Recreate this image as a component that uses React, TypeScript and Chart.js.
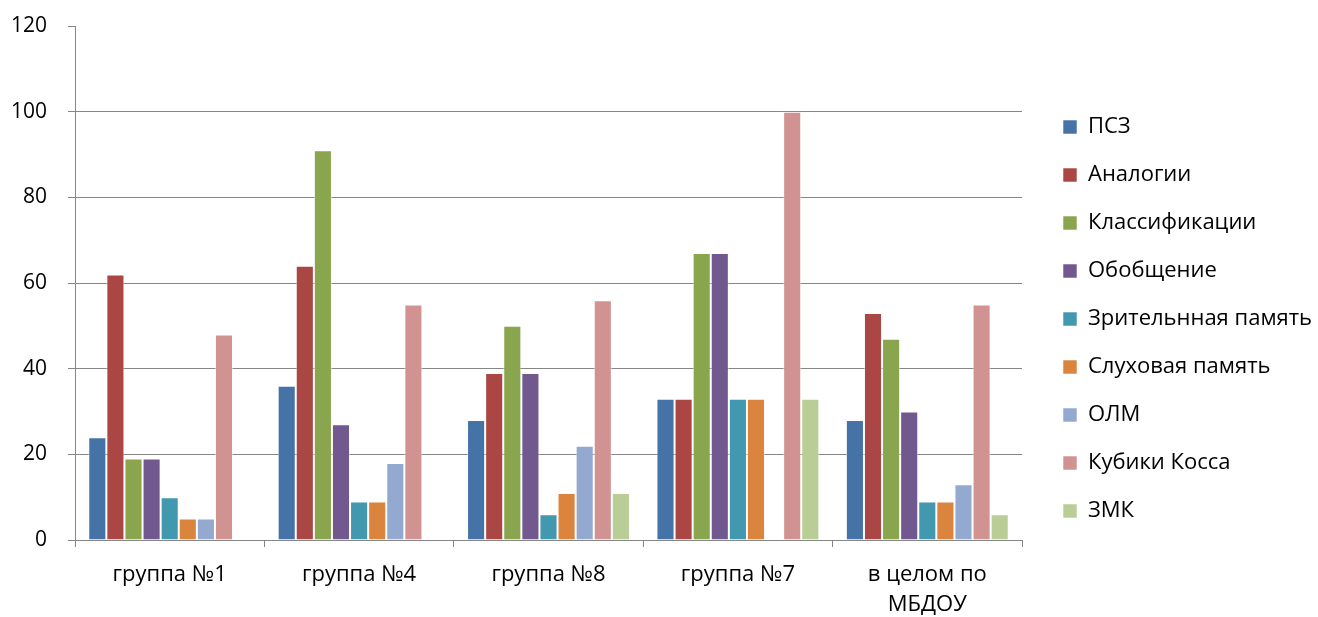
import React, { useEffect, useRef } from 'react';
import { Chart, registerables } from 'chart.js';

Chart.register(...registerables);

const categories: (string | string[])[] = ['группа №1', 'группа №4', 'группа №8', 'группа №7', ['в целом по', 'МБДОУ']];

const seriesNames = [
  'ПСЗ',
  'Аналогии',
  'Классификации',
  'Обобщение',
  'Зрительнная память',
  'Слуховая память',
  'ОЛМ',
  'Кубики Косса',
  'ЗМК',
];

const pszValues = [24, 36, 28, 33, 28];
const analogiesValues = [62, 64, 39, 33, 53];
const classificationValues = [19, 91, 50, 67, 47];
const generalizationValues = [19, 27, 39, 67, 30];
const visualMemoryValues = [10, 9, 6, 33, 9];
const auditoryMemoryValues = [5, 9, 11, 33, 9];
const olmValues = [5, 18, 22, 0, 13];
const kohsValues = [48, 55, 56, 100, 55];
const zmkValues = [0, 0, 11, 33, 6];

const yTicks = [0, 20, 40, 60, 80, 100, 120];

const seriesColors = [
  '#4572A7',
  '#AA4643',
  '#89A54E',
  '#71588F',
  '#4198AF',
  '#DB843D',
  '#93A9CF',
  '#D19392',
  '#B9CD96',
];

const allSeries = [
  pszValues,
  analogiesValues,
  classificationValues,
  generalizationValues,
  visualMemoryValues,
  auditoryMemoryValues,
  olmValues,
  kohsValues,
  zmkValues,
];

const FONT = "'Open Sans', 'Noto Sans', sans-serif";
const AXIS_GRAY = '#868686';

const legendPlacer = {
  id: 'legendPlacer',
  beforeLayout(chart: any) {
    const lg = chart.legend;
    if (lg && !lg.__patched) {
      const orig = lg.fit;
      lg.fit = function () {
        orig.call(this);
        this.width = 296;
      };
      lg.__patched = true;
    }
  },
  afterLayout(chart: any) {
    const lg = chart.legend;
    if (!lg) return;
    const w = lg.right - lg.left;
    lg.left = 1037;
    lg.right = 1037 + w;
    const h = lg.bottom - lg.top;
    lg.top = lg.top - 2.5;
    lg.bottom = lg.top + h;
  },
};

export default function App() {
  const canvasRef = useRef<HTMLCanvasElement | null>(null);

  useEffect(() => {
    if (!canvasRef.current) return;
    const chart = new Chart(canvasRef.current, {
      type: 'bar',
      data: {
        labels: categories as any,
        datasets: seriesNames.map((name, i) => ({
          label: name,
          data: allSeries[i],
          backgroundColor: seriesColors[i],
          borderColor: 'rgba(255,255,255,0.55)',
          borderWidth: 1,
          categoryPercentage: 0.86,
          barPercentage: 1,
        })),
      },
      options: {
        responsive: false,
        animation: false,
        devicePixelRatio: 1,
        layout: { padding: { top: 26, left: 0, right: 0, bottom: 0 } },
        plugins: {
          legend: {
            position: 'right',
            align: 'center',
            labels: {
              boxWidth: 14,
              boxHeight: 14,
              padding: 26,
              color: '#000',
              font: { family: FONT, size: 22 },
            },
          },
          tooltip: { enabled: false },
          title: { display: false },
        },
        scales: {
          x: {
            afterFit: (scale: any) => {
              scale.height = 77;
            },
            grid: {
              offset: true,
              drawOnChartArea: false,
              drawTicks: true,
              tickLength: 7,
              color: AXIS_GRAY,
              lineWidth: 1,
            },
            border: { display: true, color: AXIS_GRAY, width: 1 },
            ticks: {
              color: '#000',
              padding: 12,
              maxRotation: 0,
              autoSkip: false,
              font: { family: FONT, size: 22, lineHeight: 1.4 },
            },
          },
          y: {
            min: 0,
            max: 120,
            afterFit: (scale: any) => {
              scale.width = 75;
              scale.paddingTop = 0;
              scale.paddingBottom = 0;
            },
            afterBuildTicks: (scale: any) => {
              scale.ticks = yTicks.map((v) => ({ value: v }));
            },
            grid: {
              color: (ctx: any) => (ctx.tick && ctx.tick.value === 120 ? 'rgba(0,0,0,0)' : AXIS_GRAY),
              tickColor: AXIS_GRAY,
              drawTicks: true,
              tickLength: 7,
              lineWidth: 1,
            },
            border: { display: true, color: AXIS_GRAY, width: 1 },
            ticks: {
              color: '#000',
              padding: 21,
              font: { family: FONT, size: 21 },
            },
          },
        },
      },
      plugins: [legendPlacer],
    });
    return () => chart.destroy();
  }, []);

  return (
    <div style={{ position: 'fixed', left: 0, top: 0, width: 1318, height: 617, background: '#fff' }}>
      <canvas ref={canvasRef} width={1318} height={617} style={{ display: 'block' }} />
    </div>
  );
}
